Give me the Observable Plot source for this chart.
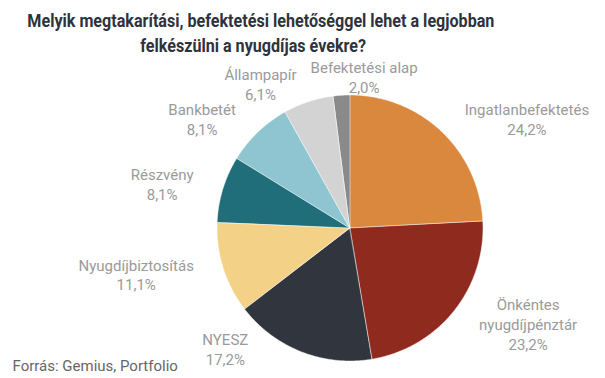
<!DOCTYPE html>
<html>
<head>
<meta charset="utf-8">
<script src="https://cdn.jsdelivr.net/npm/d3@7"></script>
<script src="https://cdn.jsdelivr.net/npm/@observablehq/plot@0.6"></script>
<style>
  body { margin: 0; background: #fff; font-family: Roboto, sans-serif; }
  #title { width: 506px; height: 58px; box-sizing: border-box; padding-top: 8px; text-align: center;
           font-weight: 700; font-size: 18px; line-height: 25px; color: #2e323c; white-space: nowrap; }
  #title span { display: inline-block; transform-origin: 50% 50%; }
</style>
</head>
<body>
<div id="title"><span id="t1">Melyik megtakarítási, befektetési lehetőséggel lehet a legjobban</span><br><span id="t2">felkészülni a nyugdíjas évekre?</span></div>
<div id="chart"></div>
<script>
// ---- data ----
const categories = ["Ingatlanbefektetés", "Önkéntes nyugdíjpénztár", "NYESZ", "Nyugdíjbiztosítás",
                    "Részvény", "Bankbetét", "Állampapír", "Befektetési alap"];
const labelNames = ["Ingatlanbefektetés", "Önkéntes\nnyugdíjpénztár", "NYESZ", "Nyugdíjbiztosítás",
                    "Részvény", "Bankbetét", "Állampapír", "Befektetési alap"];
const values = [24.2, 23.2, 17.2, 11.1, 8.1, 8.1, 6.1, 2.0];
const colors = ["#d9883d", "#8e2a1e", "#30353e", "#f3d288", "#1f6e7a", "#8ec5d0", "#d3d3d3", "#8a8a8a"];
const caption = "Forrás: Gemius, Portfolio";

// condensed title (reference uses a narrow bold face)
{
  const c = document.createElement("canvas").getContext("2d");
  c.font = "700 18px Roboto";
  const k = 467 / c.measureText(document.getElementById("t1").textContent).width;
  ["t1", "t2"].forEach(id => document.getElementById(id).style.transform = `scaleX(${k})`);
}

// ---- layout ----
const W = 605, H = 320, cx = 350, cy = 170, r = 133;
const FS = 15;
const arcs = d3.pie().sort(null).value(d => d)(values);

// slice polygons (unit circle coords, y downward)
const rows = [];
arcs.forEach((a, i) => {
  const n = Math.max(2, Math.ceil((a.endAngle - a.startAngle) / 0.01));
  for (let k = 0; k <= n; k++) {
    const t = a.startAngle + (a.endAngle - a.startAngle) * k / n;
    rows.push({name: categories[i], color: colors[i], x1: 0, y1: 0, x2: Math.sin(t), y2: -Math.cos(t)});
  }
});

// labels
const fmt = v => v.toFixed(1).replace(".", ",") + "%";
const ctx = document.createElement("canvas").getContext("2d");
ctx.font = FS + "px Roboto";
const Rx = 160, Ry = 152, pad = 4, lh = 20, gap = 14;
const labels = arcs.map((a, i) => {
  const m = (a.startAngle + a.endAngle) / 2;
  const s = Math.sin(m), c = -Math.cos(m);
  const text = labelNames[i] + "\n" + fmt(values[i]);
  const lines = text.split("\n");
  const w = d3.max(lines, l => ctx.measureText(l).width);
  const h = lines.length * lh;
  let ny = Ry * c, nx = Rx * s;
  const minY = -cy + h / 2 - 4, maxY = H - 10 - h / 2 - cy;
  if (ny < minY || ny > maxY) {
    ny = Math.max(minY, Math.min(maxY, ny));
    nx = Math.sign(s) * Rx * Math.sqrt(Math.max(0, 1 - (ny / Ry) ** 2));
  }
  const centered = Math.abs(s) < 0.15;
  const x = centered ? nx : nx + Math.sign(s) * (pad + w / 2);
  return {text, x, y: ny, w, h, centered};
});
labels.forEach(L => {
  if (!L.centered) return;
  labels.forEach(O => {
    if (O === L) return;
    if (Math.abs(L.x - O.x) < (L.w + O.w) / 2 + gap && Math.abs(L.y - O.y) < (L.h + O.h) / 2) {
      const dir = Math.sign(L.x - O.x) || 1;
      L.x = O.x + dir * ((L.w + O.w) / 2 + gap);
    }
  });
});
labels.forEach(L => { L.ux = L.x / r; L.uy = L.y / r; });

const chart = Plot.plot({
  width: W, height: H, margin: 0,
  x: {domain: [-cx / r, (W - cx) / r], range: [0, W], axis: null},
  y: {domain: [-cy / r, (H - cy) / r], range: [0, H], axis: null},
  style: {fontFamily: "Roboto, sans-serif", background: "white", overflow: "visible"},
  marks: [
    Plot.area(rows, {x1: "x1", y1: "y1", x2: "x2", y2: "y2", z: "name", fill: "color",
                     stroke: "white", strokeWidth: 0.6, strokeOpacity: 0.8}),
    Plot.text(labels, {x: "ux", y: "uy", text: "text", textAnchor: "middle", lineAnchor: "middle",
                       fontSize: FS, lineHeight: lh / FS, fill: "#9a9a9a"}),
    Plot.text([caption], {frameAnchor: "bottom-left", dx: 12, dy: -8, lineAnchor: "bottom",
                          textAnchor: "start", fontSize: FS, fill: "#666"})
  ]
});
document.getElementById("chart").appendChild(chart);
</script>
</body>
</html>
